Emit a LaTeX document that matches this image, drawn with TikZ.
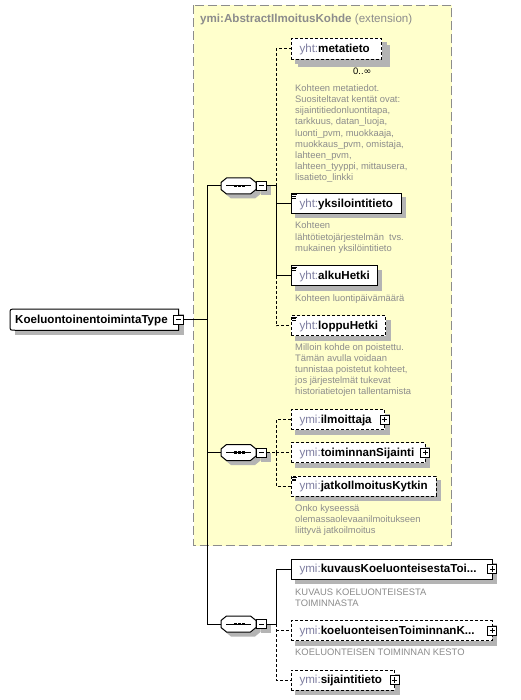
\documentclass[tikz,border=0pt]{standalone}
\usepackage{fontspec}
\setmainfont{Liberation Sans}
\newfontfamily\dvsans{DejaVu Sans}
\pgfdeclarelayer{bg}
\pgfdeclarelayer{shd}
\pgfsetlayers{bg,shd,main}
\definecolor{yfill}{HTML}{FFFFCC}
\definecolor{yborder}{HTML}{8C8C8C}
\definecolor{shadowc}{HTML}{B4B4B4}
\definecolor{pfx}{HTML}{7D7DA0}
\definecolor{descc}{HTML}{8C8C8C}
\definecolor{titlec}{HTML}{8C8C8C}
\newcommand\elfont{\fontsize{11.6}{13}\selectfont}
\newcommand\dscfont{\fontsize{9.4}{11.1}\selectfont}
\tikzset{
  conn/.style={draw=black, line width=1pt},
  dconn/.style={conn, dash pattern=on 3pt off 2pt},
  elembox/.style={draw=black, line width=1pt, fill=white, anchor=west, inner sep=0pt,
    minimum height=20pt, text height=10pt, text depth=2.4pt, font=\elfont},
  optbox/.style={elembox, dash pattern=on 3pt off 2pt},
  plusbox/.style={draw=black, line width=1pt, fill=white, minimum width=9pt, minimum height=9pt, inner sep=0pt},
  minusbox/.style={draw=black, line width=1pt, fill=white, minimum width=10pt, minimum height=9pt, inner sep=0pt},
  dsc/.style={anchor=base west, inner sep=0pt, font=\dscfont, text=descc},
  seqhit/.style={minimum width=35pt, minimum height=16pt, inner sep=0pt},
  ybox/.style={fill=yfill, draw=yborder, line width=1pt, dash pattern=on 9pt off 4pt},
}
\newcommand\shadowof[2]{% #1 node, #2 offset
  \begin{pgfonlayer}{shd}
  \fill[shadowc] ([shift={(#2,#2)}]#1.north west) rectangle ([shift={(#2,#2)}]#1.south east);
  \end{pgfonlayer}}
% element: #1 style, #2 name, #3 y, #4 width, #5 prefix, #6 local name
\newcommand\elem[6]{%
  \node[#1] (#2) at (290.7,#3) {\makebox[#4pt][l]{\hspace{8.3pt}\textcolor{pfx}{#5:}\textbf{#6}}};
  \shadowof{#2}{4.5}}
\newcommand\docicon[1]{%
  \draw[line width=0.6pt] ([shift={(1.5,1.6)}]#1.north west) -- ++(5,0)
    ([shift={(1.5,3.3)}]#1.north west) -- ++(3.8,0)
    ([shift={(1.5,5)}]#1.north west) -- ++(3.8,0);}
\newcommand\plusat[1]{%
  \node[plusbox] (#1p) at ([xshift=-0.3pt]#1.east) {};
  \draw[line width=1pt] ([xshift=-2.6pt]#1p.center) -- ([xshift=2.6pt]#1p.center)
    ([yshift=-2.6pt]#1p.center) -- ([yshift=2.6pt]#1p.center);}
\newcommand\desc[3]{%
  \foreach \t [count=\i] in {#3} {\node[dsc] (#1-\i) at (295,{#2+(\i-1)*11.1}) {\t};}}
\newcommand\seqnode[3]{%
  \coordinate (#1c) at (#2,#3);
  \fill[shadowc] ([shift={(4.5,4.5)}]#1c) +(-17.5,-3.5) -- +(-12,-8) -- +(12,-8) -- +(17.5,-3.5)
    -- +(17.5,3.5) -- +(12,8) -- +(-12,8) -- +(-17.5,3.5) -- cycle;
  \fill[shadowc] ([shift={(4.5,4.5)}]#1c) +(17.5,-4.5) rectangle +(27.5,4.5);
  \filldraw[fill=white, draw=black, line width=1pt] (#1c) +(-17.5,-3.5) -- +(-12,-8) -- +(12,-8)
    -- +(17.5,-3.5) -- +(17.5,3.5) -- +(12,8) -- +(-12,8) -- +(-17.5,3.5) -- cycle;
  \node[seqhit] (#1) at (#1c) {};
  \draw[line width=1pt] ([xshift=-12.5pt]#1.center) -- ([xshift=12.5pt]#1.center);
  \foreach \dx in {-3.2,0.8,4.8} {\fill ([xshift=\dx pt]#1.center) +(-1.4,-1.4) rectangle +(1.4,1.4);}
  \node[minusbox, anchor=west] (#1m) at (#1.east) {};
  \draw[line width=1pt] ([xshift=-2.6pt]#1m.center) -- ([xshift=2.6pt]#1m.center);}
\begin{document}
\begin{tikzpicture}[x=1pt,y=-1pt]
\useasboundingbox (0,0) rectangle (520,700);
\begin{pgfonlayer}{bg}
\fill[white] (0,0) rectangle (520,700);
\path[ybox] (193.5,5.5) rectangle (451.5,545.5);
\end{pgfonlayer}
\node[anchor=base west, inner sep=0pt, font=\elfont, text=titlec] (ttl) at (200,22.3)
  {\textbf{ymi:AbstractIlmoitusKohde} (extension)};
% root
\node[inner sep=0pt, minimum height=20.7pt, text height=10pt, text depth=2.4pt,
  font=\elfont, anchor=west] (root) at (10,319.7)
  {\makebox[168.3pt][l]{\hspace{5pt}\textbf{KoeluontoinentoimintaType}}};
\begin{pgfonlayer}{shd}
\fill[shadowc] ([shift={(5,5)}]root.north west) rectangle ([shift={(5,5)}]root.south east);
\fill[white, draw=black, line width=1pt] ([xshift=5pt]root.north west) -- (root.north east) -- (root.south east)
  -- ([xshift=5pt]root.south west) .. controls (root.south west) .. ([yshift=5pt]root.south west)
  -- ([yshift=-5pt]root.north west) .. controls (root.north west) .. ([xshift=5pt]root.north west) -- cycle;
\end{pgfonlayer}
\node[minusbox] (rootm) at (root.east) {};
\draw[line width=1pt] ([xshift=-2.6pt]rootm.center) -- ([xshift=2.6pt]rootm.center);
% sequences
\seqnode{seqa}{238.5}{186}
\seqnode{seqb}{238.5}{452.5}
\seqnode{seqc}{238.5}{624}
% elements, group 1
\elem{optbox, minimum height=21pt}{meta}{49}{90.3}{yht}{metatieto}
\shadowof{meta}{7.5}
\node[anchor=base west, inner sep=0pt, font=\dscfont] (metaocc) at (353,75) {0..{\dvsans ∞}};
\desc{metad}{91.7}{{Kohteen metatiedot.},{Suositeltavat kentät ovat:},{sijaintitiedonluontitapa,},{tarkkuus, datan\_luoja,},{luonti\_pvm, muokkaaja,},{muokkaus\_pvm, omistaja,},{lahteen\_pvm,},{lahteen\_tyyppi, mittausera,},{lisatieto\_linkki}}
\elem{elembox}{yks}{203.5}{110}{yht}{yksilointitieto}
\docicon{yks}
\desc{yksd}{229}{{Kohteen},{lähtötietojärjestelmän\ \ tvs.},{mukainen yksilöintitieto}}
\elem{elembox}{alku}{275.7}{86}{yht}{alkuHetki}
\docicon{alku}
\desc{alkud}{301}{{Kohteen luontipäivämäärä}}
\elem{optbox}{loppu}{325.7}{94.3}{yht}{loppuHetki}
\docicon{loppu}
\desc{loppud}{350}{{Milloin kohde on poistettu.},{Tämän avulla voidaan},{tunnistaa poistetut kohteet,},{jos järjestelmät tukevat},{historiatietojen tallentamista}}
% group 2
\elem{optbox}{ilm}{419.5}{93.3}{ymi}{ilmoittaja}
\plusat{ilm}
\elem{optbox}{toim}{452.5}{134}{ymi}{toiminnanSijainti}
\plusat{toim}
\elem{optbox}{jatko}{486}{145}{ymi}{jatkoIlmoitusKytkin}
\docicon{jatko}
\desc{jatkod}{511}{{Onko kyseessä},{olemassaolevaanilmoitukseen},{liittyvä jatkoilmoitus}}
% group 3
\elem{elembox}{kuv}{569}{201}{ymi}{kuvausKoeluonteisestaToi...}
\plusat{kuv}
\desc{kuvd}{595.7}{{KUVAUS KOELUONTEISESTA},{TOIMINNASTA}}
\elem{optbox}{koel}{630.7}{201}{ymi}{koeluonteisenToiminnanK...}
\plusat{koel}
\desc{koeld}{655}{{KOELUONTEISEN TOIMINNAN KESTO}}
\elem{optbox}{sijt}{680}{103.3}{ymi}{sijaintitieto}
\plusat{sijt}
% connectors
\coordinate (mv) at (207,186);
\draw[conn] (rootm.east) -- (rootm.east -| mv);
\draw[conn] (mv) -- (mv |- seqc.west);
\draw[conn] (mv) -- (seqa.west);
\draw[conn] (seqb.west -| mv) -- (seqb.west);
\draw[conn] (seqc.west -| mv) -- (seqc.west);
\coordinate (va) at (276,186);
\draw[conn] (seqam.east) -- (va);
\draw[dconn] (va) |- (meta.west);
\draw[conn] (va) |- (alku.west);
\draw[conn] (yks.west -| va) -- (yks.west);
\draw[dconn] (alku.west -| va) |- (loppu.west);
\coordinate (vb) at (276,452.5);
\draw[dconn] (seqbm.east) -- (vb);
\draw[dconn] (vb) |- (ilm.west);
\draw[dconn] (vb) -- (toim.west);
\draw[dconn] (vb) |- (jatko.west);
\coordinate (vc) at (276,624);
\draw[conn] (seqcm.east) -- (vc);
\draw[conn] (vc) |- (kuv.west);
\draw[dconn] (vc) |- (sijt.west);
\draw[dconn] (koel.west -| vc) -- (koel.west);
\end{tikzpicture}
\end{document}
